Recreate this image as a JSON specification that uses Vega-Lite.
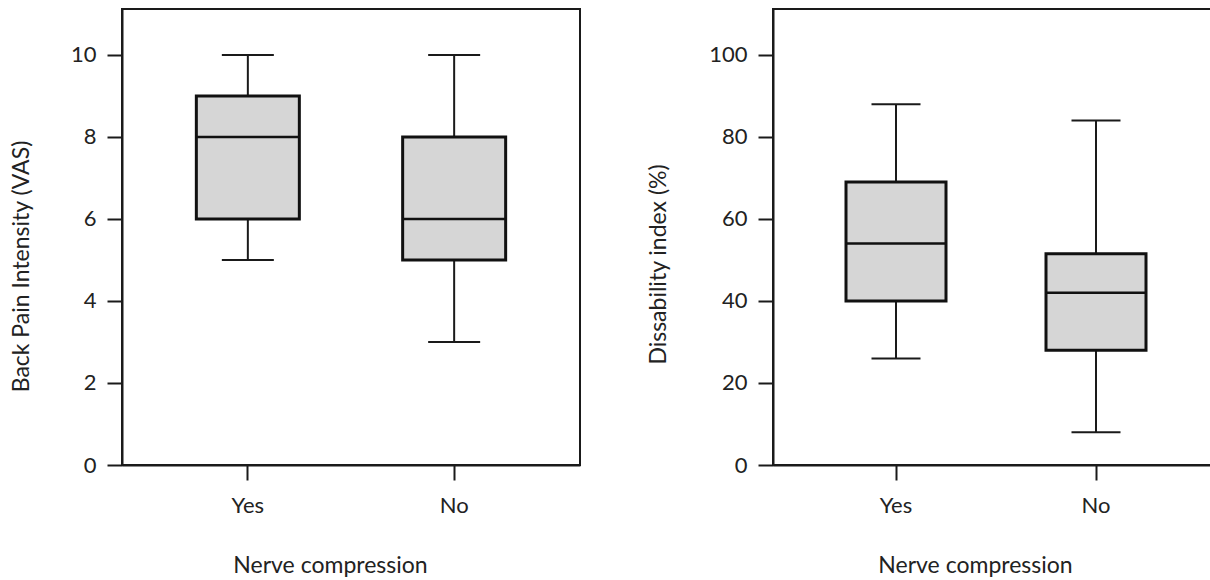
{
  "$schema": "https://vega.github.io/schema/vega-lite/v6.json",
  "background": "white",
  "padding": {"left": 9, "top": 8, "right": 0, "bottom": 0},
  "spacing": 65,
  "config": {
    "font": "Lato",
    "view": {"stroke": "#1a1a1a", "strokeWidth": 2},
    "axis": {
      "domainColor": "#1a1a1a", "domainWidth": 2,
      "tickColor": "#1a1a1a", "tickWidth": 2, "tickSize": 15,
      "labelFontSize": 22, "labelColor": "#222", "labelPadding": 11,
      "titleFontSize": 23, "titleFontWeight": "normal", "titleColor": "#222",
      "grid": false
    }
  },
  "datasets": {
    "pain": [
      {"group": "Yes", "min": 5, "q1": 6, "median": 8, "q3": 9, "max": 10},
      {"group": "No", "min": 3, "q1": 5, "median": 6, "q3": 8, "max": 10}
    ],
    "dis": [
      {"group": "Yes", "min": 26, "q1": 40, "median": 54, "q3": 69, "max": 88},
      {"group": "No", "min": 8, "q1": 28, "median": 42, "q3": 51.5, "max": 84}
    ]
  },
  "hconcat": [
    {
      "width": 458, "height": 456,
      "data": {"name": "pain"},
      "encoding": {
        "x": {"field": "group", "type": "nominal", "sort": ["Yes", "No"],
          "scale": {"paddingInner": 0.5, "paddingOuter": 0.36},
          "axis": {"title": "Nerve compression", "labelAngle": 0, "labelPadding": 15, "titlePadding": 38, "titleX": 208}}
      },
      "layer": [
        {"mark": {"type": "rule", "strokeWidth": 2, "color": "#1a1a1a"},
         "encoding": {"y": {"field": "min", "type": "quantitative", "title": "Back Pain Intensity (VAS)",
            "scale": {"domain": [0, 11.12], "nice": false},
            "axis": {"values": [0, 2, 4, 6, 8, 10], "titlePadding": 37, "titleY": 257}},
           "y2": {"field": "max"}}},
        {"mark": {"type": "bar", "fill": "#d6d6d6", "stroke": "#111", "strokeWidth": 3, "size": 103},
         "encoding": {"y": {"field": "q1", "type": "quantitative", "title": "Back Pain Intensity (VAS)"}, "y2": {"field": "q3"}}},
        {"mark": {"type": "tick", "color": "#111", "thickness": 2.5, "size": 103, "opacity": 1},
         "encoding": {"y": {"field": "median", "type": "quantitative", "title": "Back Pain Intensity (VAS)"}}},
        {"mark": {"type": "tick", "color": "#1a1a1a", "thickness": 2, "size": 52, "opacity": 1},
         "encoding": {"y": {"field": "min", "type": "quantitative", "title": "Back Pain Intensity (VAS)"}}},
        {"mark": {"type": "tick", "color": "#1a1a1a", "thickness": 2, "size": 52, "opacity": 1},
         "encoding": {"y": {"field": "max", "type": "quantitative", "title": "Back Pain Intensity (VAS)"}}}
      ]
    },
    {
      "width": 446, "height": 456,
      "data": {"name": "dis"},
      "encoding": {
        "x": {"field": "group", "type": "nominal", "sort": ["Yes", "No"],
          "scale": {"paddingInner": 0.5, "paddingOuter": 0.365},
          "axis": {"title": "Nerve compression", "labelAngle": 0, "labelPadding": 15, "titlePadding": 38, "titleX": 202}}
      },
      "layer": [
        {"mark": {"type": "rule", "strokeWidth": 2, "color": "#1a1a1a"},
         "encoding": {"y": {"field": "min", "type": "quantitative", "title": "Dissability index (%)",
            "scale": {"domain": [0, 111.2], "nice": false},
            "axis": {"values": [0, 20, 40, 60, 80, 100], "titlePadding": 38, "titleY": 255}},
           "y2": {"field": "max"}}},
        {"mark": {"type": "bar", "fill": "#d6d6d6", "stroke": "#111", "strokeWidth": 3, "size": 100},
         "encoding": {"y": {"field": "q1", "type": "quantitative", "title": "Dissability index (%)"}, "y2": {"field": "q3"}}},
        {"mark": {"type": "tick", "color": "#111", "thickness": 2.5, "size": 100, "opacity": 1},
         "encoding": {"y": {"field": "median", "type": "quantitative", "title": "Dissability index (%)"}}},
        {"mark": {"type": "tick", "color": "#1a1a1a", "thickness": 2, "size": 49, "opacity": 1},
         "encoding": {"y": {"field": "min", "type": "quantitative", "title": "Dissability index (%)"}}},
        {"mark": {"type": "tick", "color": "#1a1a1a", "thickness": 2, "size": 49, "opacity": 1},
         "encoding": {"y": {"field": "max", "type": "quantitative", "title": "Dissability index (%)"}}}
      ]
    }
  ]
}
